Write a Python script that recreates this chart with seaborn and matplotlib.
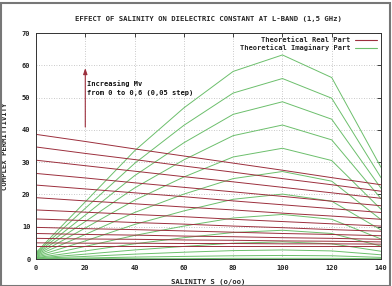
import matplotlib
matplotlib.use("Agg")
import matplotlib.pyplot as plt
import seaborn as sns
import pandas as pd
from matplotlib.lines import Line2D
from matplotlib.patches import Rectangle

salinity = [0, 20, 40, 60, 80, 100, 120, 140]
mv_labels = ["0.60", "0.55", "0.50", "0.45", "0.40", "0.35", "0.30",
             "0.25", "0.20", "0.15", "0.10", "0.05", "0.00"]

real_part = [
    [38.6, 36.4, 34.1, 31.9, 29.7, 27.5, 25.2, 23.0],
    [34.7, 32.7, 30.8, 28.8, 26.9, 24.9, 23.0, 21.0],
    [30.6, 28.9, 27.2, 25.5, 23.9, 22.2, 20.5, 18.8],
    [26.5, 25.1, 23.6, 22.2, 20.8, 19.4, 17.9, 16.5],
    [22.9, 21.7, 20.5, 19.3, 18.0, 16.8, 15.6, 14.4],
    [19.0, 18.0, 17.1, 16.1, 15.2, 14.2, 13.3, 12.3],
    [15.2, 14.5, 13.8, 13.1, 12.3, 11.6, 10.9, 10.2],
    [12.4, 11.9, 11.3, 10.8, 10.2, 9.7, 9.1, 8.6],
    [9.8, 9.4, 9.1, 8.7, 8.3, 7.9, 7.6, 7.2],
    [7.9, 7.6, 7.4, 7.1, 6.9, 6.6, 6.4, 6.1],
    [6.4, 6.2, 6.1, 5.9, 5.8, 5.6, 5.5, 5.3],
    [5.0, 4.9, 4.9, 4.8, 4.8, 4.7, 4.7, 4.6],
    [4.1, 4.1, 4.1, 4.1, 4.1, 4.1, 4.1, 4.1],
]

imag_part = [
    [2.0, 17.7, 33.5, 46.8, 58.1, 63.2, 56.2, 28.4],
    [1.8, 15.7, 29.6, 41.4, 51.4, 55.9, 49.8, 25.2],
    [1.6, 13.6, 25.8, 36.0, 44.8, 48.7, 43.3, 21.9],
    [1.4, 11.6, 22.0, 30.7, 38.2, 41.5, 36.9, 18.7],
    [1.2, 9.6, 18.2, 25.4, 31.6, 34.3, 30.5, 15.4],
    [1.0, 7.6, 14.4, 20.1, 24.9, 27.1, 24.1, 12.2],
    [0.8, 5.6, 10.7, 14.9, 18.5, 20.1, 17.9, 9.0],
    [0.6, 3.9, 7.3, 10.2, 12.7, 13.8, 12.3, 6.2],
    [0.4, 2.5, 4.7, 6.6, 8.2, 8.9, 7.9, 4.0],
    [0.3, 1.5, 2.8, 3.9, 4.9, 5.3, 4.7, 2.4],
    [0.2, 0.8, 1.5, 2.1, 2.6, 2.8, 2.5, 1.3],
    [0.1, 0.3, 0.6, 0.8, 1.0, 1.1, 1.0, 0.5],
    [0.0, 0.1, 0.1, 0.1, 0.2, 0.2, 0.2, 0.1],
]

x_ticks = [0, 20, 40, 60, 80, 100, 120, 140]
y_ticks = [0, 10, 20, 30, 40, 50, 60, 70]

title = "EFFECT OF SALINITY ON DIELECTRIC CONSTANT AT L-BAND (1,5 GHz)"
xlabel = "SALINITY S (o/oo)"
ylabel = "COMPLEX PERMITTIVITY"
legend_labels = ["Theoretical Real Part", "Theoretical Imaginary Part"]
annot_text = "Increasing Mv\nfrom 0 to 0,6 (0,05 step)"

RED = "#9c2f3d"
GREEN = "#6cbf6c"

rows = []
for lab, rv, iv in zip(mv_labels, real_part, imag_part):
    for s, r, i in zip(salinity, rv, iv):
        rows.append({"S": s, "value": r, "Mv": lab, "part": "real"})
        rows.append({"S": s, "value": i, "Mv": lab, "part": "imag"})
df = pd.DataFrame(rows)

sns.set_style("white")
plt.rcParams["font.family"] = ["DejaVu Sans Mono", "DejaVu Sans"]
plt.rcParams["font.weight"] = "bold"

fig = plt.figure(figsize=(3.92, 2.86), dpi=100)
fig.patch.set_facecolor("white")
ax = fig.add_axes([36/392, 1-259/286, (381-36)/392, (259-33)/286])

sns.lineplot(data=df[df.part == "imag"], x="S", y="value", units="Mv",
             estimator=None, color=GREEN, lw=0.7, ax=ax, legend=False)
sns.lineplot(data=df[df.part == "real"], x="S", y="value", units="Mv",
             estimator=None, color=RED, lw=0.7, ax=ax, legend=False)

ax.set_xlim(0, 140)
ax.set_ylim(0, 70)
ax.set_xticks(x_ticks)
ax.set_yticks(y_ticks)
ax.set_xticklabels([str(t) for t in x_ticks], fontsize=5, fontweight="bold")
ax.set_yticklabels([str(t) for t in y_ticks], fontsize=5, fontweight="bold")
ax.tick_params(direction="in", length=3, width=0.6, top=True, right=True,
               pad=4, colors="#222222")
ax.grid(True, linestyle=(0, (1, 2)), color="#b8b8b8", lw=0.6)
for sp in ax.spines.values():
    sp.set_color("#333333")
    sp.set_linewidth(0.7)

ax.set_xlabel(xlabel, fontsize=5.2, fontweight="bold", labelpad=6)
ax.set_ylabel(ylabel, fontsize=5.2, fontweight="bold", labelpad=10)
ax.set_title(title, fontsize=5.2, fontweight="bold", pad=9)

ax.annotate("", xy=(20, 60), xytext=(20, 40),
            arrowprops=dict(arrowstyle="-|>,head_length=0.35,head_width=0.12",
                            color=RED, lw=0.8))
ax.text(20.8, 55.5, annot_text, fontsize=5, fontweight="bold", va="top",
        ha="left", linespacing=1.6, color="#111111")

handles = [Line2D([], [], color=RED, lw=0.8), Line2D([], [], color=GREEN, lw=0.8)]
leg = ax.legend(handles, legend_labels, loc="upper right", frameon=False,
                markerfirst=False, handlelength=3.2,
                borderaxespad=0.2, labelspacing=0.2, handletextpad=0.6,
                prop={"size": 5, "weight": "bold"})
for t in leg.get_texts():
    t.set_ha("right")

fig.patches.append(Rectangle((0.003, 0.0), 0.992, 0.99, transform=fig.transFigure,
                             fill=False, edgecolor="#777777", lw=1.5))

fig.savefig("out.png", dpi=100, facecolor="white")
